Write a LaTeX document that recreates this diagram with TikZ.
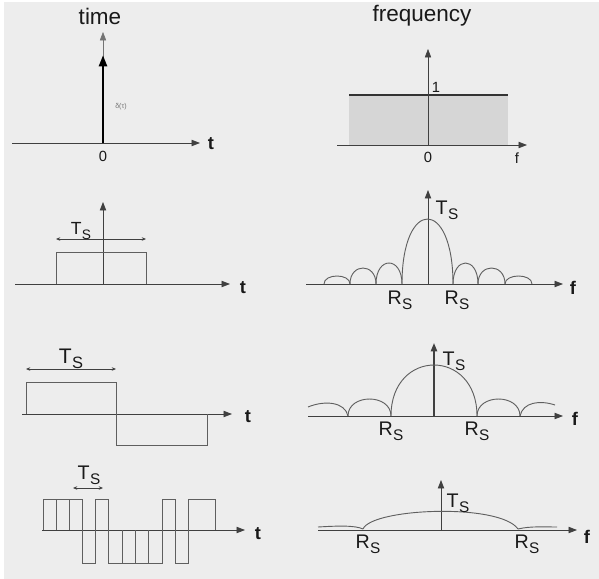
\documentclass[tikz,border=0pt]{standalone}
\usepackage{fontspec}
\setmainfont{Liberation Sans}
\usetikzlibrary{arrows.meta}
\definecolor{bggray}{RGB}{237,237,237}
\definecolor{wavegray}{RGB}{95,95,95}
\definecolor{fillgray}{RGB}{214,214,214}
\newcommand{\subS}[1]{#1\kern0.02em\raisebox{-0.45ex}{\scalebox{0.78}{S}}}
\newcommand{\arch}[4]{\draw[wave] (#1,#4) .. controls (#1,#4-1.333*#3) and (#2,#4-1.333*#3) .. (#2,#4);}

\begin{document}
\begin{tikzpicture}[
    x=0.025cm, y=-0.025cm,
    axis/.style={draw=black!75, line width=0.6pt, -{Triangle[length=6pt,width=4.5pt]}},
    wave/.style={draw=wavegray, line width=0.65pt},
    span/.style={draw=black!75, line width=0.5pt, {Stealth[length=3pt,width=2.5pt]}-{Stealth[length=3pt,width=2.5pt]}},
    head/.style={font=\fontsize{16}{18}\selectfont, text=black!90},
    var/.style={font=\bfseries\fontsize{13}{15}\selectfont, text=black!90},
    lbl/.style={font=\fontsize{14}{16}\selectfont, text=black!90},
    small/.style={font=\fontsize{10.5}{12}\selectfont, text=black!90}
  ]
  \fill[white] (0,0) rectangle (599,579);
  \fill[bggray] (4,2) rectangle (599,579);
  \useasboundingbox (0,0) rectangle (599,579);

  \node[head] (time) at (100,16) {time};
  \node[head] (freq) at (422,16) {frequency};

  % impulse
  \draw[axis] (12,143) -- (200,143);
  \draw[axis, draw=black!55, line width=0.4pt] (103,143) -- (103,32);
  \draw[line width=2pt, -{Triangle[length=8pt,width=5.5pt]}] (103,143) -- (103,55);
  \node[var] (t1) at (211,144) {t};
  \node[small] (zero1) at (103,156) {0};
  \node[font=\fontsize{5}{6}\selectfont, text=black!55] (delta) at (121,107) {δ(τ)};

  % flat spectrum
  \fill[fillgray] (349,95) rectangle (508,145);
  \draw[line width=1.2pt, black!80] (349,95) -- (508,95);
  \draw[axis] (337,145) -- (527,145);
  \draw[axis, line width=0.4pt] (428,145) -- (428,49);
  \node[small] (one) at (436,87) {1};
  \node[small] (zero2) at (428,157) {0};
  \node[small] (f2) at (517,158) {f};

  % single pulse
  \draw[axis] (15,284) -- (230,284);
  \draw[axis] (103,284) -- (103,202);
  \draw[wave] (56,284) |- (146,252) -- (146,284);
  \draw[span] (56,239) -- (146,239);
  \node[font=\fontsize{12.5}{14}\selectfont, text=black!90] (ts3) at (81,231) {\subS{T}};
  \node[var] (t3) at (243,288) {t};

  % sinc
  \draw[axis] (306,284) -- (563,284);
  \draw[axis] (428,284) -- (428,190);
  \arch{402}{453}{65}{284}
  \foreach \a/\b/\h in {324/350/8, 350/376/16, 376/402/21, 453/478/21, 478/505/16, 505/532/8}
    {\arch{\a}{\b}{\h}{284}}
  \node[lbl] (ts4) at (447,210) {\subS{T}};
  \node[lbl] (rs4a) at (400,300) {\subS{R}};
  \node[lbl] (rs4b) at (457,300) {\subS{R}};
  \node[var] (f4) at (573,288) {f};

  % bipolar pulse
  \draw[axis] (22,414) -- (232,414);
  \draw[wave] (26,414) |- (116,382) -- (116,445) -| (207,414);
  \draw[span] (26,369) -- (116,369);
  \node[font=\fontsize{15}{17}\selectfont, text=black!90] (ts5) at (71,359) {\subS{T}};
  \node[var] (t5) at (248,417) {t};

  \draw[axis] (308,416) -- (563,416);
  \draw[axis, line width=1.2pt] (434,416) -- (434,343);
  \arch{391}{477}{51}{416}
  \arch{348}{391}{17}{416}
  \arch{477}{520}{17}{416}
  \draw[wave] (308,407) .. controls (325,400) and (345,402) .. (348,416);
  \draw[wave] (520,416) .. controls (523,402) and (540,400) .. (555,405);
  \node[lbl] (ts6) at (454,361) {\subS{T}};
  \node[lbl] (rs6a) at (391,431) {\subS{R}};
  \node[lbl] (rs6b) at (477,431) {\subS{R}};
  \node[var] (f6) at (575,419) {f};

  % random NRZ
  \draw[axis] (42,530) -- (245,530);
  \draw[wave] (43,530) |- (82,499) |- (95,563) |- (108,499) |- (162,563) |- (175,499) |- (188,563) |- (215,499) -- (215,530);
  \foreach \x in {56,69}
    \draw[wave] (\x,499) -- (\x,530);
  \foreach \x in {122,135,148}
    \draw[wave] (\x,530) -- (\x,563);
  \draw[span] (73,488) -- (103,488);
  \node[lbl] (ts7) at (89,475) {\subS{T}};
  \node[var] (t7) at (258,534) {t};

  \draw[axis] (318,530) -- (577,530);
  \draw[axis] (441,530) -- (441,480);
  \draw[wave] (363,529) .. controls (372,508) and (500,503) .. (518,529);
  \draw[wave] (318,527) .. controls (335,526) and (355,525) .. (363,529);
  \draw[wave] (518,529) .. controls (530,526) and (545,527) .. (557,527);
  \node[lbl] (ts8) at (458,503) {\subS{T}};
  \node[lbl] (rs8a) at (368,544) {\subS{R}};
  \node[lbl] (rs8b) at (527,544) {\subS{R}};
  \node[var] (f8) at (587,537) {f};
\end{tikzpicture}
\end{document}
